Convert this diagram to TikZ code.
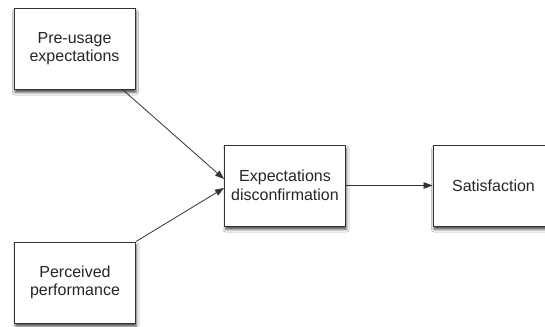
\documentclass[tikz,border=0pt]{standalone}
\usepackage{fontspec}
\setmainfont{Liberation Sans}
\usetikzlibrary{arrows.meta,shadows.blur}
\begin{document}
\begin{tikzpicture}[x=1pt,y=-1pt,
  box/.style={draw=black!80, line width=0.9pt, fill=white,
    minimum width=121pt, minimum height=81pt, inner sep=0pt,
    align=center, text=black!85, font=\fontsize{16}{18.5}\selectfont,
    blur shadow={shadow xshift=1pt, shadow yshift=-3.5pt,
      shadow blur radius=2.5pt, shadow opacity=70}},
  link/.style={draw=black!80, line width=0.8pt,
    -{Triangle[length=9pt,width=6.5pt]}}]
\useasboundingbox (0,0) rectangle (545,326);
\clip (0,0) rectangle (545,326);
\fill[white] (0,0) rectangle (545,326);

\node[box] (pre)  at (74.5,48.5)  {Pre-usage\\expectations};
\node[box] (perf) at (75,282.5)   {Perceived\\performance};
\node[box] (disc) at (285,185.5)  {Expectations\\disconfirmation};
\node[box] (sat)  at (493.5,185.5) {Satisfaction};

\draw[link] ([xshift=-13pt]pre.south east) -- ([yshift=6.5pt]disc.west);
\draw[link] (perf.north east) -- ([yshift=-2.5pt]disc.west);
\draw[link] (disc.east) -- (sat.west);
\end{tikzpicture}
\end{document}
